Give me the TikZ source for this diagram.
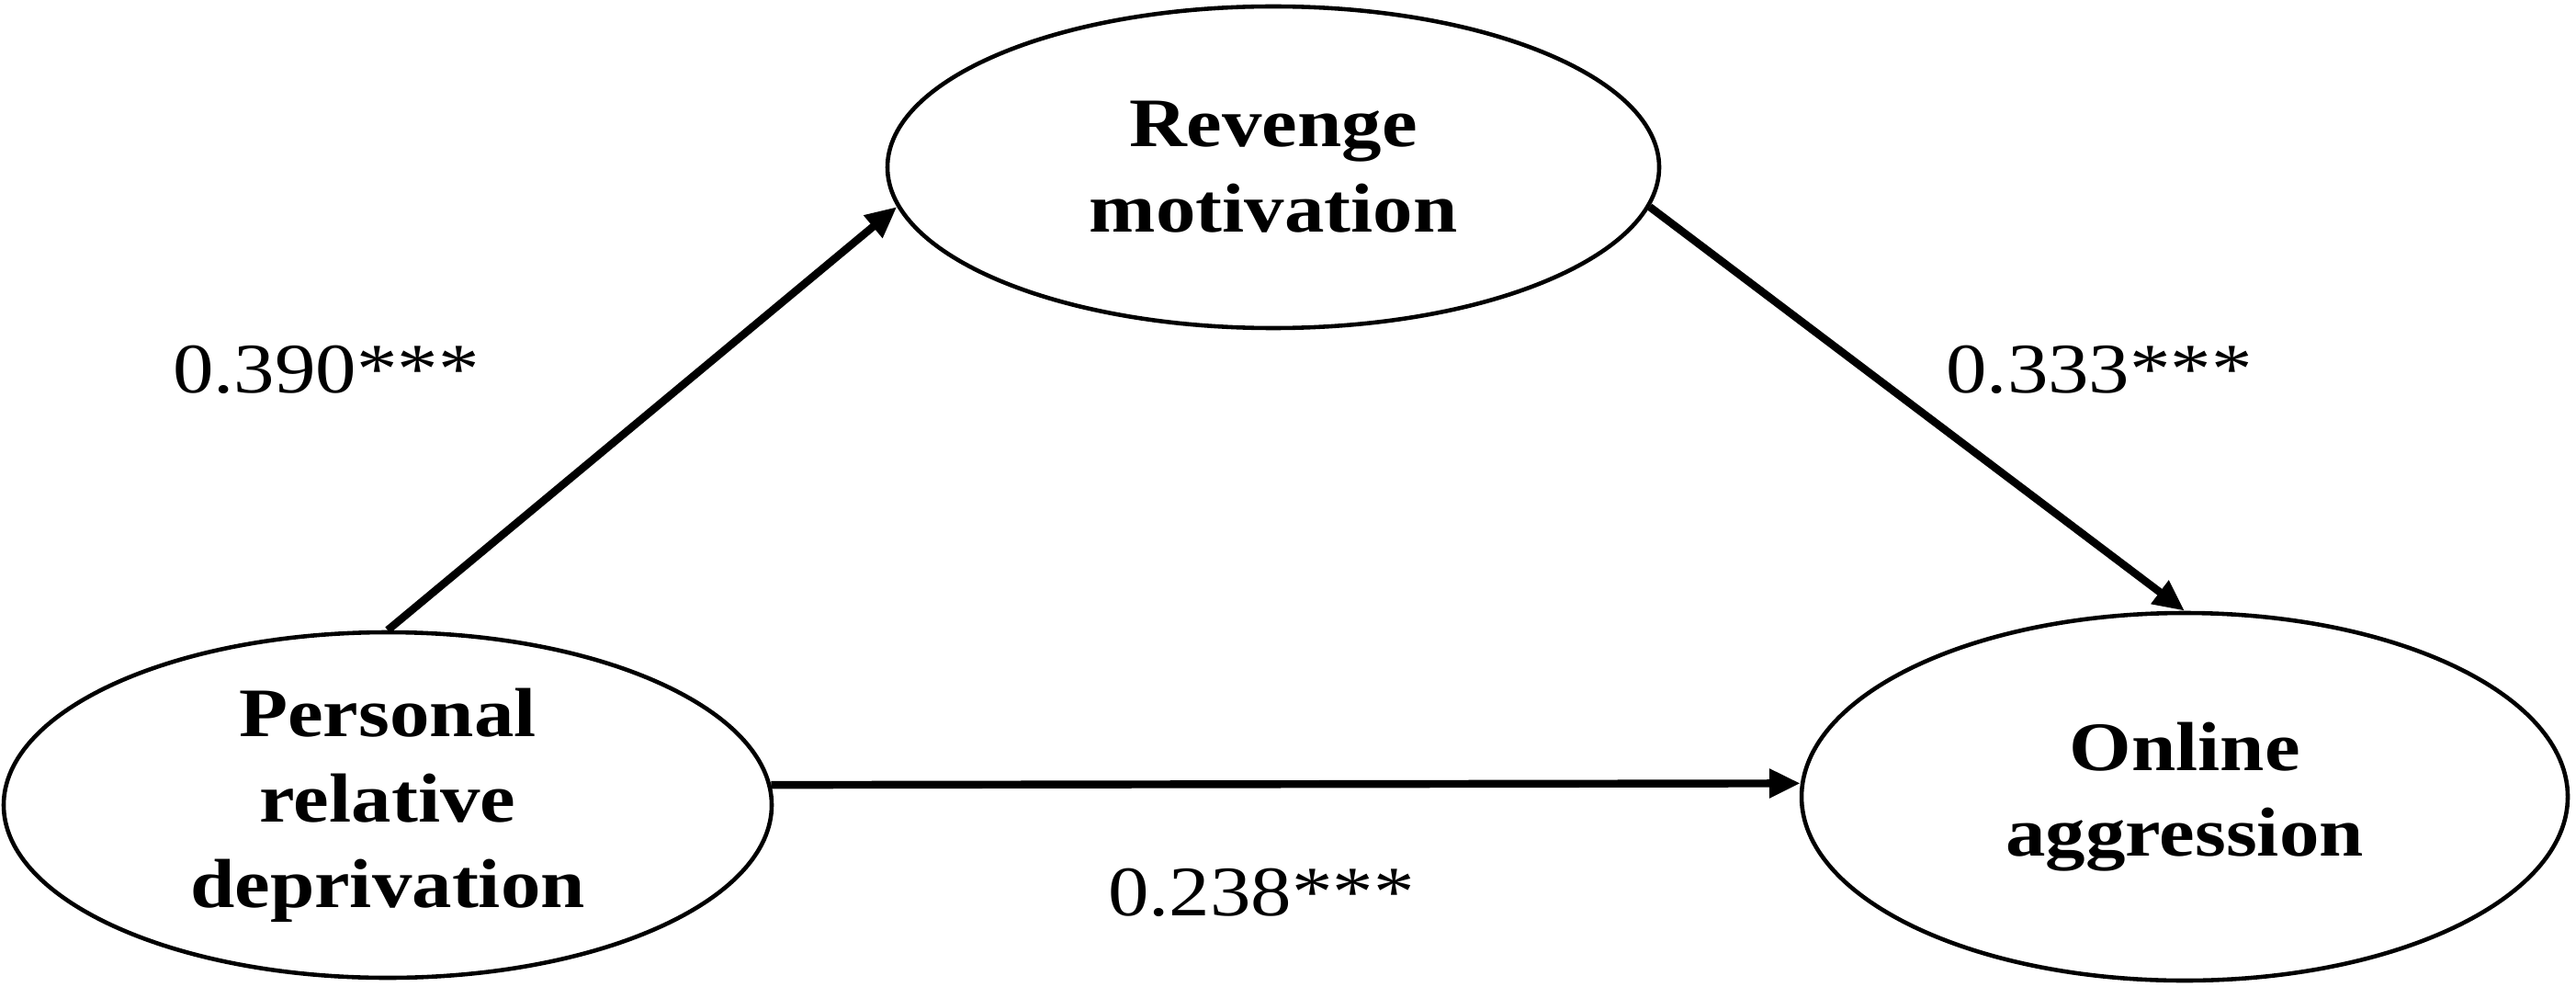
\documentclass[tikz,border=0pt]{standalone}
\usepackage{fontspec}
\setmainfont{Liberation Serif}[FakeStretch=1.15]
\usetikzlibrary{shapes.geometric}
\usetikzlibrary{arrows.meta}
\tikzset{
  var/.style= {draw, ellipse, line width=1.3pt, inner sep=0, align=center,
    font=\bfseries\fontsize{21.5}{26.5}\selectfont},
  effect/.style= {line width=2.4pt, -{Triangle[length=0.34cm, width=0.3cm]}},
  coef/.style= {font=\fontsize{22}{26}\selectfont},
}

\begin{document}
\begin{tikzpicture}
  \useasboundingbox (0,0) rectangle (28.04,10.73);
  \node [var, minimum width=8.36cm, minimum height=3.76cm] (pd) at (4.22,1.97) {Personal\\relative\\deprivation} ;
  \node [var, minimum width=8.4cm, minimum height=3.5cm] (rm) at (13.86,8.91) {Revenge\\motivation} ;
  \node [var, minimum width=8.34cm, minimum height=4.0cm] (oa) at (23.78,2.06) {Online\\aggression} ;
  \node [coef] (pdrm) at (3.55,6.71) {0.390***} ;
  \node [coef] (rmoa) at (22.85,6.71) {0.333***} ;
  \node [coef] (pdoa) at (13.73,1.02) {0.238***} ;

  \draw [effect] (pd.north) -- (rm.186) ;
  \draw [effect] (rm.-6) -- (oa.north) ;
  \draw [effect] (pd.3) -- (oa.178.3) ;
\end{tikzpicture}
\end{document}
